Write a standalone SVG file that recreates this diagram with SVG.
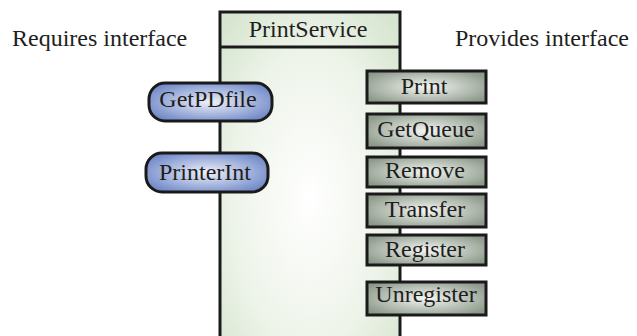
<svg xmlns="http://www.w3.org/2000/svg" width="637" height="336" viewBox="0 0 637 336">
  <style>
    text { font-family: "Liberation Serif", "Times New Roman", serif; font-size: 24px; fill: #1e1e1e; }
    .c { text-anchor: middle; }
    .outline { stroke: #1a1a1a; stroke-width: 3; }
    .req { fill: url(#blueGrad); }
    .prov { fill: url(#greyGrad); }
  </style>

  <text x="12" y="46">Requires interface</text>
  <text x="455" y="46">Provides interface</text>

  <!-- component -->
  <g id="PrintService">
    <rect x="220" y="12" width="180" height="340" fill="url(#compGrad)" class="outline"/>
    <line x1="220" y1="47" x2="400" y2="47" class="outline"/>
    <text x="308" y="37" class="c">PrintService</text>
  </g>

  <!-- required interfaces -->
  <g id="GetPDfile">
    <rect x="149" y="83" width="123" height="38" rx="16" class="req outline"/>
    <text x="208" y="107" class="c">GetPDfile</text>
  </g>
  <g id="PrinterInt">
    <rect x="146" y="153" width="122" height="39" rx="16" class="req outline"/>
    <text x="205" y="180" class="c">PrinterInt</text>
  </g>

  <!-- provided interfaces -->
  <g id="Print">
    <rect x="367" y="71" width="119" height="32" class="prov outline"/>
    <text x="424" y="94" class="c">Print</text>
  </g>
  <g id="GetQueue">
    <rect x="367" y="114" width="119" height="34" class="prov outline"/>
    <text x="426" y="137" class="c">GetQueue</text>
  </g>
  <g id="Remove">
    <rect x="367" y="157" width="119" height="30" class="prov outline"/>
    <text x="425" y="178" class="c">Remove</text>
  </g>
  <g id="Transfer">
    <rect x="367" y="194" width="119" height="33" class="prov outline"/>
    <text x="425" y="217" class="c">Transfer</text>
  </g>
  <g id="Register">
    <rect x="367" y="235" width="119" height="30" class="prov outline"/>
    <text x="425" y="257" class="c">Register</text>
  </g>
  <g id="Unregister">
    <rect x="367" y="282" width="119" height="33" class="prov outline"/>
    <text x="426" y="302" class="c">Unregister</text>
  </g>

  <g id="connectors"></g>

  <defs>
    <radialGradient id="compGrad" cx="0.5" cy="0.55" r="0.7">
      <stop offset="0" stop-color="#ffffff"/>
      <stop offset="0.6" stop-color="#eef4ea"/>
      <stop offset="1" stop-color="#d6e5cf"/>
    </radialGradient>
    <radialGradient id="blueGrad" cx="0.5" cy="0.5" r="0.6">
      <stop offset="0" stop-color="#eef1fa"/>
      <stop offset="1" stop-color="#6d86c6"/>
    </radialGradient>
    <radialGradient id="greyGrad" cx="0.5" cy="0.5" r="0.6">
      <stop offset="0" stop-color="#f4f6f2"/>
      <stop offset="1" stop-color="#8d9a8b"/>
    </radialGradient>
  </defs>
</svg>
